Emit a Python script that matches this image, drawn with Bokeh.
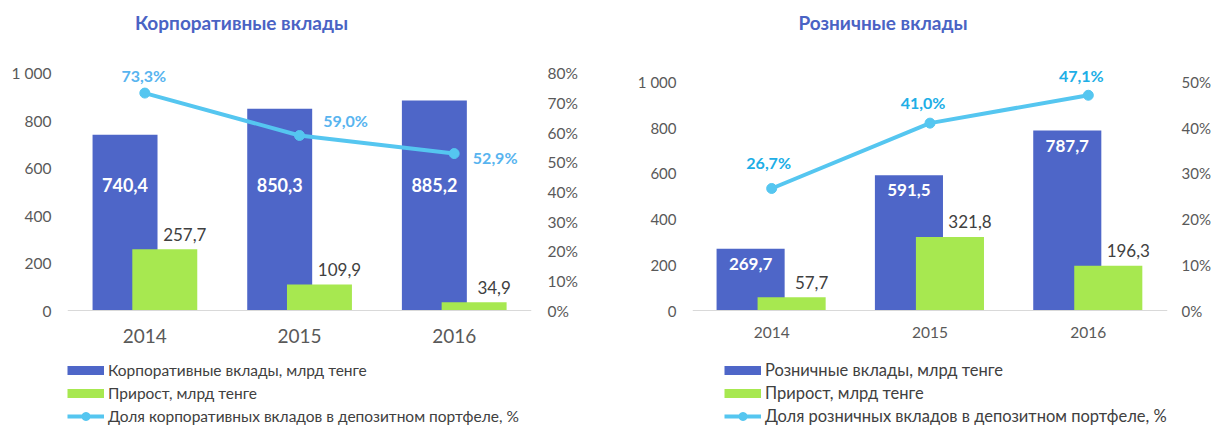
from bokeh.plotting import figure
from bokeh.models import (FactorRange, Range1d, LinearAxis, FixedTicker, ColumnDataSource,
                          Legend, LegendItem, Label)
from bokeh.transform import dodge
from bokeh.layouts import row
from bokeh.embed import file_html
from bokeh.resources import INLINE
from bokeh.core.properties import value

# ---------------- data ----------------
YEARS = ["2014", "2015", "2016"]

CORP_DEPOSITS = [740.4, 850.3, 885.2]      # млрд тенге
CORP_GROWTH = [257.7, 109.9, 34.9]         # млрд тенге
CORP_SHARE = [73.3, 59.0, 52.9]            # %

RETAIL_DEPOSITS = [269.7, 591.5, 787.7]
RETAIL_GROWTH = [57.7, 321.8, 196.3]
RETAIL_SHARE = [26.7, 41.0, 47.1]

VALUE_TICKS = [0, 200, 400, 600, 800, 1000]
VALUE_TICK_LABELS = ["0", "200", "400", "600", "800", "1 000"]
CORP_PCT_TICKS = [0, 10, 20, 30, 40, 50, 60, 70, 80]
RETAIL_PCT_TICKS = [0, 10, 20, 30, 40, 50]

CORP_TITLE = "Корпоративные вклады"
RETAIL_TITLE = "Розничные вклады"
CORP_LEGEND = ["Корпоративные вклады, млрд тенге", "Прирост, млрд тенге",
               "Доля корпоративных вкладов в депозитном портфеле, %"]
RETAIL_LEGEND = ["Розничные вклады, млрд тенге", "Прирост, млрд тенге",
                 "Доля розничных вкладов в депозитном портфеле, %"]

# ---------------- style ----------------
FONT = "Lato"
BLUE = "#4e66c8"
GREEN = "#a7e850"
LINE = "#55c6f0"
TITLE_COLOR = "#4a63c4"
AXIS_TEXT = "#595959"
DARK_TEXT = "#404040"
HEIGHT = 427
ZERO_PX = 310          # pixel row (inside figure) of the value 0


def fmt(v):
    return f"{v:.1f}".replace(".", ",")


def make_chart(title, deposits, growth, share, legend_labels, pct_ticks, *,
               width, border_left, frame_width, px_per_1000, pct_at_1000,
               title_x, x_font_size, x_standoff, pct_color, dep_label_mode, dep_label_y,
               pct_dx, pct_dy, dep_font, legend_loc, legend_font, legend_spacing,
               bar_w, dl, dg, right_standoff, y_font):
    border_right = width - border_left - frame_width
    s = px_per_1000 / 1000.0
    y_end = ZERO_PX / s
    y_start = -(HEIGHT - ZERO_PX) / s
    k = pct_at_1000 / 1000.0
    p = figure(width=width, height=HEIGHT,
               x_range=FactorRange(*YEARS, range_padding=0),
               y_range=Range1d(y_start, y_end),
               output_backend="svg", toolbar_location=None,
               min_border_left=border_left, min_border_right=border_right,
               min_border_top=0, min_border_bottom=0,
               outline_line_color=None, background_fill_color="white",
               border_fill_color="white", title=None)
    p.extra_y_ranges = {"pct": Range1d(y_start * k, y_end * k)}
    p.xgrid.visible = False
    p.ygrid.visible = False

    # title
    p.add_layout(Label(x=title_x, y=HEIGHT - 21.7, x_units="screen", y_units="screen",
                       text=title, text_align="center", text_baseline="middle",
                       text_font=FONT, text_font_size="19px", text_font_style="bold",
                       text_color=TITLE_COLOR))

    # axes
    xa = p.xaxis[0]
    xa.fixed_location = 0
    xa.axis_line_color = "#d9d9d9"
    xa.axis_line_width = 1.2
    xa.major_tick_line_color = None
    xa.major_tick_out = 0
    xa.major_tick_in = 0
    xa.minor_tick_line_color = None
    xa.major_label_standoff = x_standoff
    xa.major_label_text_font = FONT
    xa.major_label_text_font_size = x_font_size
    xa.major_label_text_color = AXIS_TEXT

    ya = p.yaxis[0]
    ya.ticker = FixedTicker(ticks=VALUE_TICKS)
    ya.major_label_overrides = dict(zip(VALUE_TICKS, VALUE_TICK_LABELS))
    ya.axis_line_color = None
    ya.major_tick_line_color = None
    ya.major_tick_out = 0
    ya.major_tick_in = 0
    ya.minor_tick_line_color = None
    ya.major_label_standoff = 16
    ya.major_label_text_font = FONT
    ya.major_label_text_font_size = y_font
    ya.major_label_text_color = AXIS_TEXT

    ra = LinearAxis(y_range_name="pct", ticker=FixedTicker(ticks=pct_ticks),
                    major_label_overrides={t_: f"{t_}%" for t_ in pct_ticks})
    ra.axis_line_color = None
    ra.major_tick_line_color = None
    ra.major_tick_out = 0
    ra.major_tick_in = 0
    ra.minor_tick_line_color = None
    ra.major_label_standoff = right_standoff
    ra.major_label_text_font = FONT
    ra.major_label_text_font_size = y_font
    ra.major_label_text_color = AXIS_TEXT
    p.add_layout(ra, "right")

    src = ColumnDataSource(dict(
        x=YEARS, dep=deposits, growth=growth, share=share,
        dep_lbl=[fmt(v) for v in deposits],
        growth_lbl=[fmt(v) for v in growth],
        share_lbl=[fmt(v) + "%" for v in share],
        dep_lbl_y=[dep_label_y if dep_label_mode == "fixed" else v for v in deposits],
        pct_dx=pct_dx, pct_dy=pct_dy,
    ))

    p.vbar(x=dodge("x", dl, range=p.x_range), top="dep", width=bar_w, source=src,
           fill_color=BLUE, line_color=None)
    p.vbar(x=dodge("x", dg, range=p.x_range), top="growth", width=bar_w, source=src,
           fill_color=GREEN, line_color=None)
    line = p.line(x="x", y="share", y_range_name="pct", source=src,
                  line_color=LINE, line_width=4)
    pts = p.scatter(x="x", y="share", y_range_name="pct", source=src, size=10,
                    fill_color=LINE, line_color=LINE)

    # value labels
    p.text(x=dodge("x", dl, range=p.x_range), y="dep_lbl_y", text="dep_lbl", source=src,
           y_offset=0 if dep_label_mode == "fixed" else 15,
           text_align="center", text_baseline="middle", text_color="white",
           text_font=value(FONT), text_font_size=dep_font, text_font_style="bold")
    p.text(x=dodge("x", dg, range=p.x_range), y="growth", text="growth_lbl", source=src,
           x_offset=20, y_offset=-15,
           text_align="center", text_baseline="middle", text_color=DARK_TEXT,
           text_font=value(FONT), text_font_size="17px")
    p.text(x="x", y="share", y_range_name="pct", text="share_lbl", source=src,
           x_offset="pct_dx", y_offset="pct_dy",
           text_align="center", text_baseline="middle", text_color=pct_color,
           text_font=value(FONT), text_font_size="16px", text_font_style="bold")

    # legend proxies (swatches)
    blue_sw = p.line(x=[YEARS[0], YEARS[1]], y=[0, 0], line_color=BLUE, line_width=9,
                     line_cap="butt", visible=False)
    green_sw = p.line(x=[YEARS[0], YEARS[1]], y=[0, 0], line_color=GREEN, line_width=9,
                      line_cap="butt", visible=False)
    legend = Legend(items=[
        LegendItem(label=legend_labels[0], renderers=[blue_sw]),
        LegendItem(label=legend_labels[1], renderers=[green_sw]),
        LegendItem(label=legend_labels[2], renderers=[line, pts]),
    ], location=legend_loc, orientation="vertical",
        border_line_color=None, background_fill_alpha=0, padding=0, margin=0,
        spacing=legend_spacing, glyph_width=37, glyph_height=20, label_height=20,
        label_standoff=4,
        label_text_font=FONT, label_text_font_size=legend_font, label_text_color=DARK_TEXT)
    p.add_layout(legend, "center")
    return p


left = make_chart(CORP_TITLE, CORP_DEPOSITS, CORP_GROWTH, CORP_SHARE, CORP_LEGEND,
                  CORP_PCT_TICKS,
                  width=600, border_left=67, frame_width=464, px_per_1000=237.3,
                  pct_at_1000=80, title_x=174, x_font_size="19px", x_standoff=18,
                  pct_color="#58b4ef", dep_label_mode="fixed", dep_label_y=527,
                  pct_dx=[-1, 46, 41], pct_dy=[-18, -15, 4], dep_font="18px",
                  legend_loc=(0, 1), legend_font="15.5px", legend_spacing=3,
                  bar_w=0.42, dl=-0.128, dg=0.129, right_standoff=16, y_font="15.5px")

right = make_chart(RETAIL_TITLE, RETAIL_DEPOSITS, RETAIL_GROWTH, RETAIL_SHARE, RETAIL_LEGEND,
                   RETAIL_PCT_TICKS,
                   width=613, border_left=92, frame_width=477, px_per_1000=228.5,
                   pct_at_1000=50, title_x=190.5, x_font_size="15.5px", x_standoff=16,
                   pct_color="#20aee6", dep_label_mode="inside", dep_label_y=0,
                   pct_dx=[-3, -7, -7], pct_dy=[-26, -21, -20], dep_font="17px",
                   legend_loc=(32, 1), legend_font="16.5px", legend_spacing=3,
                   bar_w=0.43, dl=-0.133, dg=0.126, right_standoff=14, y_font="15px")

layout = row(left, right)
open("out.html", "w").write(file_html(layout, INLINE))
